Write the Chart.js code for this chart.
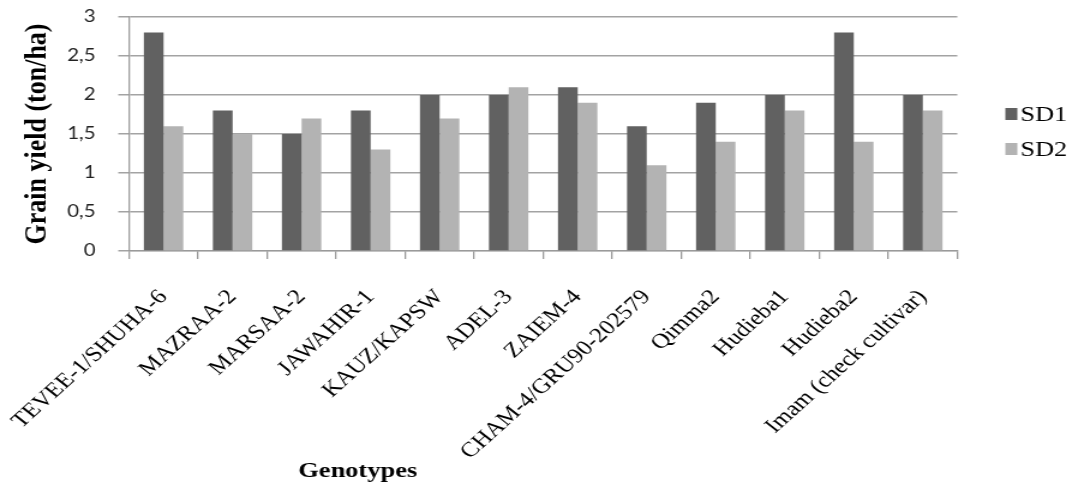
<!DOCTYPE html>
<html>
<head>
<meta charset="utf-8">
<script src="https://cdn.jsdelivr.net/npm/chart.js@4.4.1/dist/chart.umd.min.js"></script>
<style>
  html, body { margin: 0; padding: 0; background: #ffffff; overflow: hidden; }
  #wrap { width: 898px; height: 487px; transform: scaleX(1.2004); transform-origin: 0 0; }
  canvas { display: block; }
</style>
</head>
<body>
<div id="wrap"><canvas id="c" width="898" height="487"></canvas></div>
<script>
// Grain yield per genotype under two sowing dates
const genotypes = [
  "TEVEE-1/SHUHA-6", "MAZRAA-2", "MARSAA-2", "JAWAHIR-1", "KAUZ/KAPSW",
  "ADEL-3", "ZAIEM-4", "CHAM-4/GRU90-202579", "Qimma2", "Hudieba1",
  "Hudieba2", "Imam (check cultivar)"
];
const sd1 = [2.8, 1.8, 1.5, 1.8, 2.0, 2.0, 2.1, 1.6, 1.9, 2.0, 2.8, 2.0];
const sd2 = [1.6, 1.5, 1.7, 1.3, 1.7, 2.1, 1.9, 1.1, 1.4, 1.8, 1.4, 1.8];
const yTicks = [0, 0.5, 1, 1.5, 2, 2.5, 3];

const serif = "'Liberation Serif', 'Times New Roman', serif";
const sans = "Lato, 'Liberation Sans', sans-serif";

// x-axis caption, placed under the label block
const xCaption = {
  id: 'xCaption',
  afterDraw(chart) {
    const ctx = chart.ctx;
    ctx.save();
    ctx.font = "bold 22px " + serif;
    ctx.fillStyle = "#000";
    ctx.textAlign = "center";
    ctx.textBaseline = "alphabetic";
    ctx.fillText("Genotypes", 298, 477);
    ctx.restore();
  }
};

// series key to the right of the plot
const seriesKey = {
  id: 'seriesKey',
  afterDraw(chart) {
    const ctx = chart.ctx;
    const x = chart.chartArea.right + 40;
    const rows = [114, 149];
    ctx.save();
    ctx.font = "22px " + serif;
    ctx.textAlign = "left";
    ctx.textBaseline = "middle";
    chart.data.datasets.forEach((ds, i) => {
      const cy = rows[i];
      ctx.fillStyle = ds.backgroundColor;
      ctx.fillRect(x, cy - 6, 10, 12);
      ctx.fillStyle = "#000";
      ctx.fillText(ds.label, x + 12.5, cy + 1);
    });
    ctx.restore();
  }
};

new Chart(document.getElementById('c'), {
  type: 'bar',
  data: {
    labels: genotypes,
    datasets: [
      { label: 'SD1', data: sd1, backgroundColor: '#616161', borderWidth: 0 },
      { label: 'SD2', data: sd2, backgroundColor: '#b3b3b3', borderWidth: 0 }
    ]
  },
  options: {
    responsive: false,
    animation: false,
    devicePixelRatio: 1,
    layout: { padding: { left: 16, top: 17, right: 100.5, bottom: 0 } },
    datasets: { bar: { categoryPercentage: 0.571, barPercentage: 1.0 } },
    plugins: {
      legend: { display: false },
      tooltip: { enabled: false }
    },
    scales: {
      x: {
        grid: { display: true, drawOnChartArea: false, offset: true, tickLength: 8, color: '#9a9a9a', lineWidth: 1.3 },
        border: { display: true, color: '#9a9a9a', width: 1.3 },
        ticks: {
          color: '#000', autoSkip: false,
          minRotation: 47, maxRotation: 47, padding: 26,
          font: { family: serif, size: 21 }
        },
        afterFit(s) {
          s.height = 236;
          s.paddingLeft = 0; s.paddingRight = 0;
        }
      },
      y: {
        min: 0, max: 3,
        afterBuildTicks(s) { s.ticks = yTicks.map(v => ({ value: v })); },
        grid: { color: '#a3a3a3', lineWidth: 1.5, tickLength: 9 },
        border: { display: true, color: '#9a9a9a', width: 1.3 },
        ticks: {
          color: '#222', padding: 19,
          font: { family: sans, size: 17 },
          callback: v => String(v).replace('.', ',')
        },
        title: {
          display: true, text: 'Grain yield (ton/ha)', color: '#000',
          padding: { top: 0, bottom: 0 },
          font: { family: serif, size: 26, weight: 'bold' }
        },
        afterFit(s) {
          s.width = 91.5;
          s.paddingTop = 0; s.paddingBottom = 0;
        }
      }
    }
  },
  plugins: [xCaption, seriesKey]
});
</script>
</body>
</html>
